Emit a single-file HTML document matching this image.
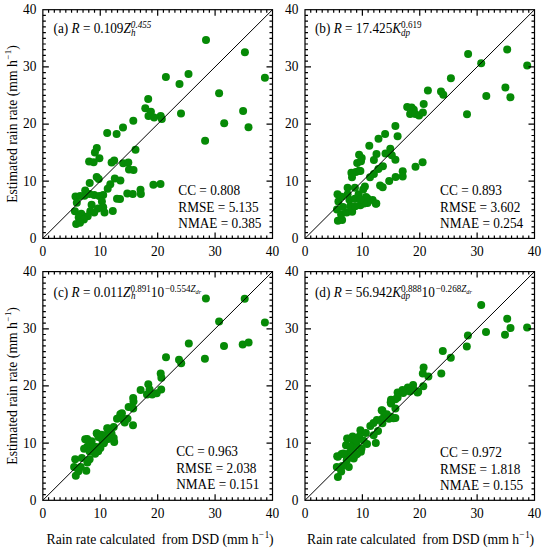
<!DOCTYPE html>
<html><head><meta charset="utf-8"><style>
html,body{margin:0;padding:0;background:#fff;}
body{width:544px;height:550px;overflow:hidden;}
svg{display:block;}
text{font-family:"Liberation Serif",serif;fill:#000;}
.t{font-size:13.4px;}
.s{font-size:13.3px;}
.L{font-size:13.66px;}
.ti{font-size:13.25px;}
circle{fill:#068a06;}
</style></head><body>
<svg width="544" height="550" viewBox="0 0 544 550">
<circle cx="206.0" cy="40.0" r="4.0"/>
<circle cx="244.9" cy="52.2" r="4.0"/>
<circle cx="264.9" cy="77.8" r="4.0"/>
<circle cx="188.5" cy="74.1" r="4.0"/>
<circle cx="179.5" cy="84.0" r="4.0"/>
<circle cx="219.1" cy="93.3" r="4.0"/>
<circle cx="181" cy="113.6" r="4.0"/>
<circle cx="243.1" cy="110.9" r="4.0"/>
<circle cx="224.2" cy="123.3" r="4.0"/>
<circle cx="248.5" cy="127.3" r="4.0"/>
<circle cx="165.9" cy="76.9" r="4.0"/>
<circle cx="148.2" cy="99.0" r="4.0"/>
<circle cx="145.3" cy="108.2" r="4.0"/>
<circle cx="150.9" cy="111.8" r="4.0"/>
<circle cx="148.5" cy="115.9" r="4.0"/>
<circle cx="154.1" cy="117.4" r="4.0"/>
<circle cx="160.7" cy="115.9" r="4.0"/>
<circle cx="161.8" cy="119.1" r="4.0"/>
<circle cx="133.3" cy="120.8" r="4.0"/>
<circle cx="123.0" cy="127.6" r="4.0"/>
<circle cx="116.6" cy="134.0" r="4.0"/>
<circle cx="205.1" cy="140.7" r="4.0"/>
<circle cx="107.2" cy="133.0" r="4.0"/>
<circle cx="135.5" cy="149.8" r="4.0"/>
<circle cx="96.8" cy="148.0" r="4.0"/>
<circle cx="94.9" cy="152.5" r="4.0"/>
<circle cx="99.4" cy="158.3" r="4.0"/>
<circle cx="89.1" cy="161.5" r="4.0"/>
<circle cx="93.6" cy="162.2" r="4.0"/>
<circle cx="111.6" cy="162.5" r="4.0"/>
<circle cx="114.2" cy="160.6" r="4.0"/>
<circle cx="123.2" cy="163.2" r="4.0"/>
<circle cx="128.3" cy="162.5" r="4.0"/>
<circle cx="129.0" cy="169.4" r="4.0"/>
<circle cx="133.5" cy="169.9" r="4.0"/>
<circle cx="114.8" cy="178.4" r="4.0"/>
<circle cx="120.4" cy="180.4" r="4.0"/>
<circle cx="110.3" cy="184.3" r="4.0"/>
<circle cx="107.7" cy="188.8" r="4.0"/>
<circle cx="153.4" cy="184.8" r="4.0"/>
<circle cx="160.5" cy="184.1" r="4.0"/>
<circle cx="127.3" cy="193.6" r="4.0"/>
<circle cx="132.8" cy="194.1" r="4.0"/>
<circle cx="140.5" cy="189.8" r="4.0"/>
<circle cx="140.9" cy="194.1" r="4.0"/>
<circle cx="117.0" cy="198.7" r="4.0"/>
<circle cx="120.0" cy="199.0" r="4.0"/>
<circle cx="96.7" cy="177.1" r="4.0"/>
<circle cx="98.7" cy="179.0" r="4.0"/>
<circle cx="89.7" cy="182.9" r="4.0"/>
<circle cx="85.2" cy="190.6" r="4.0"/>
<circle cx="75.5" cy="196.4" r="4.0"/>
<circle cx="84.5" cy="195.7" r="4.0"/>
<circle cx="94.2" cy="195.0" r="4.0"/>
<circle cx="103.2" cy="195.1" r="4.0"/>
<circle cx="99.3" cy="196.0" r="4.0"/>
<circle cx="89.5" cy="194.0" r="4.0"/>
<circle cx="80.2" cy="196.0" r="4.0"/>
<circle cx="76.8" cy="202.8" r="4.0"/>
<circle cx="91.6" cy="204.7" r="4.0"/>
<circle cx="101.9" cy="201.5" r="4.0"/>
<circle cx="103.2" cy="207.3" r="4.0"/>
<circle cx="98.0" cy="208.6" r="4.0"/>
<circle cx="74.9" cy="211.2" r="4.0"/>
<circle cx="112.8" cy="211.0" r="4.0"/>
<circle cx="81.3" cy="213.8" r="4.0"/>
<circle cx="90.3" cy="211.2" r="4.0"/>
<circle cx="94.2" cy="212.5" r="4.0"/>
<circle cx="104.5" cy="212.5" r="4.0"/>
<circle cx="87.7" cy="216.3" r="4.0"/>
<circle cx="78.7" cy="217.6" r="4.0"/>
<circle cx="83.9" cy="219.5" r="4.0"/>
<circle cx="76.2" cy="224.1" r="4.0"/>
<circle cx="80.0" cy="222.8" r="4.0"/>
<path d="M48.59 238.4v-3M48.59 9.7v3M42.85 232.68h3M272.5 232.68h-3M54.33 238.4v-3M54.33 9.7v3M42.85 226.97h3M272.5 226.97h-3M60.07 238.4v-3M60.07 9.7v3M42.85 221.25h3M272.5 221.25h-3M65.81 238.4v-3M65.81 9.7v3M42.85 215.53h3M272.5 215.53h-3M71.56 238.4v-3M71.56 9.7v3M42.85 209.81h3M272.5 209.81h-3M77.30 238.4v-3M77.30 9.7v3M42.85 204.09h3M272.5 204.09h-3M83.04 238.4v-3M83.04 9.7v3M42.85 198.38h3M272.5 198.38h-3M88.78 238.4v-3M88.78 9.7v3M42.85 192.66h3M272.5 192.66h-3M94.52 238.4v-3M94.52 9.7v3M42.85 186.94h3M272.5 186.94h-3M100.26 238.4v-6M100.26 9.7v6M42.85 181.22h6M272.5 181.22h-6M106.00 238.4v-3M106.00 9.7v3M42.85 175.51h3M272.5 175.51h-3M111.75 238.4v-3M111.75 9.7v3M42.85 169.79h3M272.5 169.79h-3M117.49 238.4v-3M117.49 9.7v3M42.85 164.07h3M272.5 164.07h-3M123.23 238.4v-3M123.23 9.7v3M42.85 158.36h3M272.5 158.36h-3M128.97 238.4v-3M128.97 9.7v3M42.85 152.64h3M272.5 152.64h-3M134.71 238.4v-3M134.71 9.7v3M42.85 146.92h3M272.5 146.92h-3M140.45 238.4v-3M140.45 9.7v3M42.85 141.20h3M272.5 141.20h-3M146.19 238.4v-3M146.19 9.7v3M42.85 135.49h3M272.5 135.49h-3M151.93 238.4v-3M151.93 9.7v3M42.85 129.77h3M272.5 129.77h-3M157.68 238.4v-6M157.68 9.7v6M42.85 124.05h6M272.5 124.05h-6M163.42 238.4v-3M163.42 9.7v3M42.85 118.33h3M272.5 118.33h-3M169.16 238.4v-3M169.16 9.7v3M42.85 112.61h3M272.5 112.61h-3M174.90 238.4v-3M174.90 9.7v3M42.85 106.90h3M272.5 106.90h-3M180.64 238.4v-3M180.64 9.7v3M42.85 101.18h3M272.5 101.18h-3M186.38 238.4v-3M186.38 9.7v3M42.85 95.46h3M272.5 95.46h-3M192.12 238.4v-3M192.12 9.7v3M42.85 89.75h3M272.5 89.75h-3M197.86 238.4v-3M197.86 9.7v3M42.85 84.03h3M272.5 84.03h-3M203.60 238.4v-3M203.60 9.7v3M42.85 78.31h3M272.5 78.31h-3M209.35 238.4v-3M209.35 9.7v3M42.85 72.59h3M272.5 72.59h-3M215.09 238.4v-6M215.09 9.7v6M42.85 66.88h6M272.5 66.88h-6M220.83 238.4v-3M220.83 9.7v3M42.85 61.16h3M272.5 61.16h-3M226.57 238.4v-3M226.57 9.7v3M42.85 55.44h3M272.5 55.44h-3M232.31 238.4v-3M232.31 9.7v3M42.85 49.72h3M272.5 49.72h-3M238.05 238.4v-3M238.05 9.7v3M42.85 44.00h3M272.5 44.00h-3M243.79 238.4v-3M243.79 9.7v3M42.85 38.29h3M272.5 38.29h-3M249.53 238.4v-3M249.53 9.7v3M42.85 32.57h3M272.5 32.57h-3M255.28 238.4v-3M255.28 9.7v3M42.85 26.85h3M272.5 26.85h-3M261.02 238.4v-3M261.02 9.7v3M42.85 21.13h3M272.5 21.13h-3M266.76 238.4v-3M266.76 9.7v3M42.85 15.42h3M272.5 15.42h-3" stroke="#000" stroke-width="1.2" fill="none"/>
<rect x="42.85" y="9.7" width="229.65" height="228.70" stroke="#000" stroke-width="1.2" fill="none"/>
<line x1="42.85" y1="238.4" x2="272.5" y2="9.7" stroke="#000" stroke-width="1"/>
<text class="t" transform="translate(42.85,255.90) scale(1,1.05)" text-anchor="middle">0</text>
<text class="t" transform="translate(36.35,242.80) scale(1,1.05)" text-anchor="end">0</text>
<text class="t" transform="translate(100.26,255.90) scale(1,1.05)" text-anchor="middle">10</text>
<text class="t" transform="translate(36.35,185.62) scale(1,1.05)" text-anchor="end">10</text>
<text class="t" transform="translate(157.68,255.90) scale(1,1.05)" text-anchor="middle">20</text>
<text class="t" transform="translate(36.35,128.45) scale(1,1.05)" text-anchor="end">20</text>
<text class="t" transform="translate(215.09,255.90) scale(1,1.05)" text-anchor="middle">30</text>
<text class="t" transform="translate(36.35,71.28) scale(1,1.05)" text-anchor="end">30</text>
<text class="t" transform="translate(272.50,255.90) scale(1,1.05)" text-anchor="middle">40</text>
<text class="t" transform="translate(36.35,14.10) scale(1,1.05)" text-anchor="end">40</text>
<circle cx="468.1" cy="54.1" r="4.0"/>
<circle cx="507.2" cy="49.5" r="4.0"/>
<circle cx="481.2" cy="63.3" r="4.0"/>
<circle cx="527.2" cy="65.6" r="4.0"/>
<circle cx="450.9" cy="78.3" r="4.0"/>
<circle cx="427.9" cy="90.4" r="4.0"/>
<circle cx="441.0" cy="91.6" r="4.0"/>
<circle cx="443.3" cy="94.8" r="4.0"/>
<circle cx="505.4" cy="87.4" r="4.0"/>
<circle cx="486.3" cy="95.9" r="4.0"/>
<circle cx="510.4" cy="97.3" r="4.0"/>
<circle cx="467.0" cy="114.3" r="4.0"/>
<circle cx="423.7" cy="104.1" r="4.0"/>
<circle cx="407.2" cy="107.1" r="4.0"/>
<circle cx="411.6" cy="107.5" r="4.0"/>
<circle cx="413.8" cy="109.7" r="4.0"/>
<circle cx="410.1" cy="114.1" r="4.0"/>
<circle cx="415.3" cy="114.1" r="4.0"/>
<circle cx="419.0" cy="115.6" r="4.0"/>
<circle cx="422.9" cy="112.4" r="4.0"/>
<circle cx="395.4" cy="125.9" r="4.0"/>
<circle cx="385.1" cy="134.0" r="4.0"/>
<circle cx="397.6" cy="136.2" r="4.0"/>
<circle cx="378.5" cy="138.7" r="4.0"/>
<circle cx="369.3" cy="145.7" r="4.0"/>
<circle cx="390.3" cy="148.7" r="4.0"/>
<circle cx="385.5" cy="153.5" r="4.0"/>
<circle cx="391.8" cy="155.3" r="4.0"/>
<circle cx="395.4" cy="159.7" r="4.0"/>
<circle cx="376.5" cy="154.1" r="4.0"/>
<circle cx="373.9" cy="159.9" r="4.0"/>
<circle cx="359.1" cy="154.7" r="4.0"/>
<circle cx="361.7" cy="158.0" r="4.0"/>
<circle cx="357.2" cy="163.1" r="4.0"/>
<circle cx="422.6" cy="162.2" r="4.0"/>
<circle cx="415.5" cy="166.7" r="4.0"/>
<circle cx="402.7" cy="171.2" r="4.0"/>
<circle cx="402.7" cy="176.4" r="4.0"/>
<circle cx="395.6" cy="177.0" r="4.0"/>
<circle cx="389.2" cy="180.9" r="4.0"/>
<circle cx="380.1" cy="185.4" r="4.0"/>
<circle cx="382.7" cy="187.3" r="4.0"/>
<circle cx="376.3" cy="203.4" r="4.0"/>
<circle cx="382.9" cy="166.3" r="4.0"/>
<circle cx="378.4" cy="168.9" r="4.0"/>
<circle cx="373.9" cy="174.1" r="4.0"/>
<circle cx="370.0" cy="177.3" r="4.0"/>
<circle cx="359.1" cy="170.8" r="4.0"/>
<circle cx="355.9" cy="172.1" r="4.0"/>
<circle cx="351.4" cy="172.8" r="4.0"/>
<circle cx="352.0" cy="177.3" r="4.0"/>
<circle cx="360.4" cy="170.9" r="4.0"/>
<circle cx="361.0" cy="161.3" r="4.0"/>
<circle cx="367.5" cy="198.6" r="4.0"/>
<circle cx="372.6" cy="199.9" r="4.0"/>
<circle cx="375.8" cy="203.8" r="4.0"/>
<circle cx="367.5" cy="203.1" r="4.0"/>
<circle cx="364.9" cy="186.4" r="4.0"/>
<circle cx="337.5" cy="194.2" r="4.0"/>
<circle cx="338.4" cy="201.5" r="4.0"/>
<circle cx="337.0" cy="209.4" r="4.0"/>
<circle cx="337.9" cy="220.8" r="4.0"/>
<circle cx="342.1" cy="219.9" r="4.0"/>
<circle cx="341.1" cy="214.4" r="4.0"/>
<circle cx="346.7" cy="212.6" r="4.0"/>
<circle cx="352.2" cy="211.7" r="4.0"/>
<circle cx="350.3" cy="206.1" r="4.0"/>
<circle cx="343.0" cy="207.1" r="4.0"/>
<circle cx="347.6" cy="194.2" r="4.0"/>
<circle cx="349.4" cy="199.7" r="4.0"/>
<circle cx="354.9" cy="198.8" r="4.0"/>
<circle cx="360.4" cy="205.2" r="4.0"/>
<circle cx="364.1" cy="203.4" r="4.0"/>
<circle cx="366.0" cy="197.0" r="4.0"/>
<circle cx="358.6" cy="194.2" r="4.0"/>
<circle cx="347.6" cy="187.8" r="4.0"/>
<circle cx="354.9" cy="187.8" r="4.0"/>
<circle cx="363.2" cy="189.6" r="4.0"/>
<circle cx="360.2" cy="199.4" r="4.0"/>
<circle cx="355.2" cy="206.3" r="4.0"/>
<circle cx="341.5" cy="196.8" r="4.0"/>
<path d="M310.74 238.4v-3M310.74 9.7v3M305.0 232.68h3M534.5 232.68h-3M316.48 238.4v-3M316.48 9.7v3M305.0 226.97h3M534.5 226.97h-3M322.21 238.4v-3M322.21 9.7v3M305.0 221.25h3M534.5 221.25h-3M327.95 238.4v-3M327.95 9.7v3M305.0 215.53h3M534.5 215.53h-3M333.69 238.4v-3M333.69 9.7v3M305.0 209.81h3M534.5 209.81h-3M339.43 238.4v-3M339.43 9.7v3M305.0 204.09h3M534.5 204.09h-3M345.16 238.4v-3M345.16 9.7v3M305.0 198.38h3M534.5 198.38h-3M350.90 238.4v-3M350.90 9.7v3M305.0 192.66h3M534.5 192.66h-3M356.64 238.4v-3M356.64 9.7v3M305.0 186.94h3M534.5 186.94h-3M362.38 238.4v-6M362.38 9.7v6M305.0 181.22h6M534.5 181.22h-6M368.11 238.4v-3M368.11 9.7v3M305.0 175.51h3M534.5 175.51h-3M373.85 238.4v-3M373.85 9.7v3M305.0 169.79h3M534.5 169.79h-3M379.59 238.4v-3M379.59 9.7v3M305.0 164.07h3M534.5 164.07h-3M385.32 238.4v-3M385.32 9.7v3M305.0 158.36h3M534.5 158.36h-3M391.06 238.4v-3M391.06 9.7v3M305.0 152.64h3M534.5 152.64h-3M396.80 238.4v-3M396.80 9.7v3M305.0 146.92h3M534.5 146.92h-3M402.54 238.4v-3M402.54 9.7v3M305.0 141.20h3M534.5 141.20h-3M408.27 238.4v-3M408.27 9.7v3M305.0 135.49h3M534.5 135.49h-3M414.01 238.4v-3M414.01 9.7v3M305.0 129.77h3M534.5 129.77h-3M419.75 238.4v-6M419.75 9.7v6M305.0 124.05h6M534.5 124.05h-6M425.49 238.4v-3M425.49 9.7v3M305.0 118.33h3M534.5 118.33h-3M431.23 238.4v-3M431.23 9.7v3M305.0 112.61h3M534.5 112.61h-3M436.96 238.4v-3M436.96 9.7v3M305.0 106.90h3M534.5 106.90h-3M442.70 238.4v-3M442.70 9.7v3M305.0 101.18h3M534.5 101.18h-3M448.44 238.4v-3M448.44 9.7v3M305.0 95.46h3M534.5 95.46h-3M454.17 238.4v-3M454.17 9.7v3M305.0 89.75h3M534.5 89.75h-3M459.91 238.4v-3M459.91 9.7v3M305.0 84.03h3M534.5 84.03h-3M465.65 238.4v-3M465.65 9.7v3M305.0 78.31h3M534.5 78.31h-3M471.39 238.4v-3M471.39 9.7v3M305.0 72.59h3M534.5 72.59h-3M477.12 238.4v-6M477.12 9.7v6M305.0 66.88h6M534.5 66.88h-6M482.86 238.4v-3M482.86 9.7v3M305.0 61.16h3M534.5 61.16h-3M488.60 238.4v-3M488.60 9.7v3M305.0 55.44h3M534.5 55.44h-3M494.34 238.4v-3M494.34 9.7v3M305.0 49.72h3M534.5 49.72h-3M500.07 238.4v-3M500.07 9.7v3M305.0 44.00h3M534.5 44.00h-3M505.81 238.4v-3M505.81 9.7v3M305.0 38.29h3M534.5 38.29h-3M511.55 238.4v-3M511.55 9.7v3M305.0 32.57h3M534.5 32.57h-3M517.29 238.4v-3M517.29 9.7v3M305.0 26.85h3M534.5 26.85h-3M523.02 238.4v-3M523.02 9.7v3M305.0 21.13h3M534.5 21.13h-3M528.76 238.4v-3M528.76 9.7v3M305.0 15.42h3M534.5 15.42h-3" stroke="#000" stroke-width="1.2" fill="none"/>
<rect x="305.0" y="9.7" width="229.50" height="228.70" stroke="#000" stroke-width="1.2" fill="none"/>
<line x1="305.0" y1="238.4" x2="534.5" y2="9.7" stroke="#000" stroke-width="1"/>
<text class="t" transform="translate(305.00,255.90) scale(1,1.05)" text-anchor="middle">0</text>
<text class="t" transform="translate(298.50,242.80) scale(1,1.05)" text-anchor="end">0</text>
<text class="t" transform="translate(362.38,255.90) scale(1,1.05)" text-anchor="middle">10</text>
<text class="t" transform="translate(298.50,185.62) scale(1,1.05)" text-anchor="end">10</text>
<text class="t" transform="translate(419.75,255.90) scale(1,1.05)" text-anchor="middle">20</text>
<text class="t" transform="translate(298.50,128.45) scale(1,1.05)" text-anchor="end">20</text>
<text class="t" transform="translate(477.12,255.90) scale(1,1.05)" text-anchor="middle">30</text>
<text class="t" transform="translate(298.50,71.28) scale(1,1.05)" text-anchor="end">30</text>
<text class="t" transform="translate(534.50,255.90) scale(1,1.05)" text-anchor="middle">40</text>
<text class="t" transform="translate(298.50,14.10) scale(1,1.05)" text-anchor="end">40</text>
<circle cx="205.9" cy="298.4" r="4.0"/>
<circle cx="244.7" cy="298.8" r="4.0"/>
<circle cx="219.1" cy="321.4" r="4.0"/>
<circle cx="264.9" cy="322.4" r="4.0"/>
<circle cx="188.8" cy="343.6" r="4.0"/>
<circle cx="224.0" cy="346.0" r="4.0"/>
<circle cx="242.7" cy="344.4" r="4.0"/>
<circle cx="248.6" cy="342.4" r="4.0"/>
<circle cx="166.0" cy="357.3" r="4.0"/>
<circle cx="179.0" cy="359.7" r="4.0"/>
<circle cx="181.2" cy="363.2" r="4.0"/>
<circle cx="204.9" cy="358.8" r="4.0"/>
<circle cx="160.7" cy="373.4" r="4.0"/>
<circle cx="161.4" cy="377.8" r="4.0"/>
<circle cx="148.3" cy="384.3" r="4.0"/>
<circle cx="140.6" cy="390.0" r="4.0"/>
<circle cx="149.6" cy="389.4" r="4.0"/>
<circle cx="161.2" cy="389.4" r="4.0"/>
<circle cx="147.0" cy="394.5" r="4.0"/>
<circle cx="152.2" cy="394.5" r="4.0"/>
<circle cx="156.7" cy="393.3" r="4.0"/>
<circle cx="133.2" cy="398.0" r="4.0"/>
<circle cx="133.5" cy="401.6" r="4.0"/>
<circle cx="128.6" cy="407.1" r="4.0"/>
<circle cx="133.2" cy="408.5" r="4.0"/>
<circle cx="121.9" cy="413.2" r="4.0"/>
<circle cx="120.3" cy="414.3" r="4.0"/>
<circle cx="117.0" cy="418.7" r="4.0"/>
<circle cx="123.0" cy="419.3" r="4.0"/>
<circle cx="127.5" cy="418.7" r="4.0"/>
<circle cx="124.7" cy="422.6" r="4.0"/>
<circle cx="133.0" cy="425.3" r="4.0"/>
<circle cx="108.2" cy="428.6" r="4.0"/>
<circle cx="113.7" cy="427.0" r="4.0"/>
<circle cx="97.1" cy="433.6" r="4.0"/>
<circle cx="101.5" cy="434.7" r="4.0"/>
<circle cx="111.5" cy="433.6" r="4.0"/>
<circle cx="113.7" cy="438.0" r="4.0"/>
<circle cx="114.2" cy="441.9" r="4.0"/>
<circle cx="108.2" cy="439.1" r="4.0"/>
<circle cx="87.2" cy="439.1" r="4.0"/>
<circle cx="91.6" cy="441.3" r="4.0"/>
<circle cx="102.6" cy="441.3" r="4.0"/>
<circle cx="87.2" cy="446.8" r="4.0"/>
<circle cx="94.9" cy="446.8" r="4.0"/>
<circle cx="100.4" cy="447.9" r="4.0"/>
<circle cx="91.6" cy="451.2" r="4.0"/>
<circle cx="98.2" cy="451.2" r="4.0"/>
<circle cx="107.2" cy="428.3" r="4.0"/>
<circle cx="96.7" cy="433.3" r="4.0"/>
<circle cx="85.2" cy="439.3" r="4.0"/>
<circle cx="98.4" cy="437.1" r="4.0"/>
<circle cx="106.1" cy="434.9" r="4.0"/>
<circle cx="103.9" cy="443.2" r="4.0"/>
<circle cx="84.1" cy="448.7" r="4.0"/>
<circle cx="92.9" cy="447.1" r="4.0"/>
<circle cx="99.5" cy="447.1" r="4.0"/>
<circle cx="95.1" cy="453.7" r="4.0"/>
<circle cx="89.6" cy="451.5" r="4.0"/>
<circle cx="75.2" cy="459.2" r="4.0"/>
<circle cx="81.9" cy="458.1" r="4.0"/>
<circle cx="89.6" cy="459.2" r="4.0"/>
<circle cx="87.4" cy="462.5" r="4.0"/>
<circle cx="74.1" cy="466.9" r="4.0"/>
<circle cx="80.7" cy="466.9" r="4.0"/>
<circle cx="86.3" cy="470.8" r="4.0"/>
<circle cx="75.8" cy="475.7" r="4.0"/>
<circle cx="78.5" cy="471.3" r="4.0"/>
<path d="M48.59 500.3v-3M48.59 271.6v3M42.85 494.58h3M272.5 494.58h-3M54.33 500.3v-3M54.33 271.6v3M42.85 488.87h3M272.5 488.87h-3M60.07 500.3v-3M60.07 271.6v3M42.85 483.15h3M272.5 483.15h-3M65.81 500.3v-3M65.81 271.6v3M42.85 477.43h3M272.5 477.43h-3M71.56 500.3v-3M71.56 271.6v3M42.85 471.71h3M272.5 471.71h-3M77.30 500.3v-3M77.30 271.6v3M42.85 466.00h3M272.5 466.00h-3M83.04 500.3v-3M83.04 271.6v3M42.85 460.28h3M272.5 460.28h-3M88.78 500.3v-3M88.78 271.6v3M42.85 454.56h3M272.5 454.56h-3M94.52 500.3v-3M94.52 271.6v3M42.85 448.84h3M272.5 448.84h-3M100.26 500.3v-6M100.26 271.6v6M42.85 443.12h6M272.5 443.12h-6M106.00 500.3v-3M106.00 271.6v3M42.85 437.41h3M272.5 437.41h-3M111.75 500.3v-3M111.75 271.6v3M42.85 431.69h3M272.5 431.69h-3M117.49 500.3v-3M117.49 271.6v3M42.85 425.97h3M272.5 425.97h-3M123.23 500.3v-3M123.23 271.6v3M42.85 420.25h3M272.5 420.25h-3M128.97 500.3v-3M128.97 271.6v3M42.85 414.54h3M272.5 414.54h-3M134.71 500.3v-3M134.71 271.6v3M42.85 408.82h3M272.5 408.82h-3M140.45 500.3v-3M140.45 271.6v3M42.85 403.10h3M272.5 403.10h-3M146.19 500.3v-3M146.19 271.6v3M42.85 397.38h3M272.5 397.38h-3M151.93 500.3v-3M151.93 271.6v3M42.85 391.67h3M272.5 391.67h-3M157.68 500.3v-6M157.68 271.6v6M42.85 385.95h6M272.5 385.95h-6M163.42 500.3v-3M163.42 271.6v3M42.85 380.23h3M272.5 380.23h-3M169.16 500.3v-3M169.16 271.6v3M42.85 374.52h3M272.5 374.52h-3M174.90 500.3v-3M174.90 271.6v3M42.85 368.80h3M272.5 368.80h-3M180.64 500.3v-3M180.64 271.6v3M42.85 363.08h3M272.5 363.08h-3M186.38 500.3v-3M186.38 271.6v3M42.85 357.36h3M272.5 357.36h-3M192.12 500.3v-3M192.12 271.6v3M42.85 351.65h3M272.5 351.65h-3M197.86 500.3v-3M197.86 271.6v3M42.85 345.93h3M272.5 345.93h-3M203.60 500.3v-3M203.60 271.6v3M42.85 340.21h3M272.5 340.21h-3M209.35 500.3v-3M209.35 271.6v3M42.85 334.49h3M272.5 334.49h-3M215.09 500.3v-6M215.09 271.6v6M42.85 328.78h6M272.5 328.78h-6M220.83 500.3v-3M220.83 271.6v3M42.85 323.06h3M272.5 323.06h-3M226.57 500.3v-3M226.57 271.6v3M42.85 317.34h3M272.5 317.34h-3M232.31 500.3v-3M232.31 271.6v3M42.85 311.62h3M272.5 311.62h-3M238.05 500.3v-3M238.05 271.6v3M42.85 305.91h3M272.5 305.91h-3M243.79 500.3v-3M243.79 271.6v3M42.85 300.19h3M272.5 300.19h-3M249.53 500.3v-3M249.53 271.6v3M42.85 294.47h3M272.5 294.47h-3M255.28 500.3v-3M255.28 271.6v3M42.85 288.75h3M272.5 288.75h-3M261.02 500.3v-3M261.02 271.6v3M42.85 283.04h3M272.5 283.04h-3M266.76 500.3v-3M266.76 271.6v3M42.85 277.32h3M272.5 277.32h-3" stroke="#000" stroke-width="1.2" fill="none"/>
<rect x="42.85" y="271.6" width="229.65" height="228.70" stroke="#000" stroke-width="1.2" fill="none"/>
<line x1="42.85" y1="500.3" x2="272.5" y2="271.6" stroke="#000" stroke-width="1"/>
<text class="t" transform="translate(42.85,517.80) scale(1,1.05)" text-anchor="middle">0</text>
<text class="t" transform="translate(36.35,504.70) scale(1,1.05)" text-anchor="end">0</text>
<text class="t" transform="translate(100.26,517.80) scale(1,1.05)" text-anchor="middle">10</text>
<text class="t" transform="translate(36.35,447.52) scale(1,1.05)" text-anchor="end">10</text>
<text class="t" transform="translate(157.68,517.80) scale(1,1.05)" text-anchor="middle">20</text>
<text class="t" transform="translate(36.35,390.35) scale(1,1.05)" text-anchor="end">20</text>
<text class="t" transform="translate(215.09,517.80) scale(1,1.05)" text-anchor="middle">30</text>
<text class="t" transform="translate(36.35,333.18) scale(1,1.05)" text-anchor="end">30</text>
<text class="t" transform="translate(272.50,517.80) scale(1,1.05)" text-anchor="middle">40</text>
<text class="t" transform="translate(36.35,276.00) scale(1,1.05)" text-anchor="end">40</text>
<circle cx="481.2" cy="304.9" r="4.0"/>
<circle cx="507.2" cy="318.8" r="4.0"/>
<circle cx="510.5" cy="328.1" r="4.0"/>
<circle cx="527.1" cy="327.6" r="4.0"/>
<circle cx="505.0" cy="334.7" r="4.0"/>
<circle cx="486.0" cy="332.1" r="4.0"/>
<circle cx="467.9" cy="335.4" r="4.0"/>
<circle cx="466.8" cy="346.4" r="4.0"/>
<circle cx="442.8" cy="351.0" r="4.0"/>
<circle cx="450.8" cy="357.8" r="4.0"/>
<circle cx="423.6" cy="367.5" r="4.0"/>
<circle cx="422.8" cy="373.4" r="4.0"/>
<circle cx="428.4" cy="376.6" r="4.0"/>
<circle cx="441.3" cy="373.4" r="4.0"/>
<circle cx="423.3" cy="386.3" r="4.0"/>
<circle cx="413.1" cy="384.9" r="4.0"/>
<circle cx="407.8" cy="387.5" r="4.0"/>
<circle cx="402.5" cy="390.0" r="4.0"/>
<circle cx="397.6" cy="392.5" r="4.0"/>
<circle cx="403.2" cy="393.1" r="4.0"/>
<circle cx="409.8" cy="391.5" r="4.0"/>
<circle cx="417.5" cy="392.6" r="4.0"/>
<circle cx="418.2" cy="391.8" r="4.0"/>
<circle cx="397.6" cy="397.5" r="4.0"/>
<circle cx="391.0" cy="399.7" r="4.0"/>
<circle cx="395.4" cy="399.2" r="4.0"/>
<circle cx="391.0" cy="403.6" r="4.0"/>
<circle cx="395.4" cy="408.6" r="4.0"/>
<circle cx="381.7" cy="410.2" r="4.0"/>
<circle cx="384.4" cy="414.6" r="4.0"/>
<circle cx="391.0" cy="416.8" r="4.0"/>
<circle cx="395.4" cy="417.9" r="4.0"/>
<circle cx="382.2" cy="419.0" r="4.0"/>
<circle cx="390.7" cy="402.2" r="4.0"/>
<circle cx="382.4" cy="410.5" r="4.0"/>
<circle cx="386.8" cy="414.3" r="4.0"/>
<circle cx="393.5" cy="418.2" r="4.0"/>
<circle cx="389.0" cy="418.7" r="4.0"/>
<circle cx="376.9" cy="419.9" r="4.0"/>
<circle cx="382.4" cy="423.2" r="4.0"/>
<circle cx="370.3" cy="425.9" r="4.0"/>
<circle cx="378.0" cy="430.9" r="4.0"/>
<circle cx="360.4" cy="430.3" r="4.0"/>
<circle cx="365.9" cy="433.1" r="4.0"/>
<circle cx="373.6" cy="435.3" r="4.0"/>
<circle cx="375.8" cy="443.0" r="4.0"/>
<circle cx="347.1" cy="438.6" r="4.0"/>
<circle cx="352.6" cy="436.4" r="4.0"/>
<circle cx="359.3" cy="436.4" r="4.0"/>
<circle cx="346.0" cy="445.2" r="4.0"/>
<circle cx="353.7" cy="443.0" r="4.0"/>
<circle cx="363.7" cy="440.8" r="4.0"/>
<circle cx="367.0" cy="444.1" r="4.0"/>
<circle cx="361.5" cy="448.5" r="4.0"/>
<circle cx="353.7" cy="449.6" r="4.0"/>
<circle cx="341.6" cy="454.0" r="4.0"/>
<circle cx="337.2" cy="456.2" r="4.0"/>
<circle cx="349.3" cy="452.9" r="4.0"/>
<circle cx="357.1" cy="454.0" r="4.0"/>
<circle cx="353.7" cy="458.5" r="4.0"/>
<circle cx="347.1" cy="458.5" r="4.0"/>
<circle cx="347.8" cy="438.7" r="4.0"/>
<circle cx="356.5" cy="445.3" r="4.0"/>
<circle cx="360.9" cy="451.8" r="4.0"/>
<circle cx="343.4" cy="453.5" r="4.0"/>
<circle cx="337.9" cy="456.7" r="4.0"/>
<circle cx="351.0" cy="457.3" r="4.0"/>
<circle cx="346.7" cy="460.6" r="4.0"/>
<circle cx="336.8" cy="467.1" r="4.0"/>
<circle cx="348.8" cy="467.1" r="4.0"/>
<circle cx="342.3" cy="466.0" r="4.0"/>
<circle cx="341.2" cy="471.5" r="4.0"/>
<circle cx="337.9" cy="476.9" r="4.0"/>
<circle cx="355.4" cy="455.1" r="4.0"/>
<circle cx="373.5" cy="423.0" r="4.0"/>
<circle cx="414.0" cy="390.0" r="4.0"/>
<circle cx="356.5" cy="440.5" r="4.0"/>
<circle cx="350.0" cy="446.5" r="4.0"/>
<path d="M310.74 500.3v-3M310.74 271.6v3M305.0 494.58h3M534.5 494.58h-3M316.48 500.3v-3M316.48 271.6v3M305.0 488.87h3M534.5 488.87h-3M322.21 500.3v-3M322.21 271.6v3M305.0 483.15h3M534.5 483.15h-3M327.95 500.3v-3M327.95 271.6v3M305.0 477.43h3M534.5 477.43h-3M333.69 500.3v-3M333.69 271.6v3M305.0 471.71h3M534.5 471.71h-3M339.43 500.3v-3M339.43 271.6v3M305.0 466.00h3M534.5 466.00h-3M345.16 500.3v-3M345.16 271.6v3M305.0 460.28h3M534.5 460.28h-3M350.90 500.3v-3M350.90 271.6v3M305.0 454.56h3M534.5 454.56h-3M356.64 500.3v-3M356.64 271.6v3M305.0 448.84h3M534.5 448.84h-3M362.38 500.3v-6M362.38 271.6v6M305.0 443.12h6M534.5 443.12h-6M368.11 500.3v-3M368.11 271.6v3M305.0 437.41h3M534.5 437.41h-3M373.85 500.3v-3M373.85 271.6v3M305.0 431.69h3M534.5 431.69h-3M379.59 500.3v-3M379.59 271.6v3M305.0 425.97h3M534.5 425.97h-3M385.32 500.3v-3M385.32 271.6v3M305.0 420.25h3M534.5 420.25h-3M391.06 500.3v-3M391.06 271.6v3M305.0 414.54h3M534.5 414.54h-3M396.80 500.3v-3M396.80 271.6v3M305.0 408.82h3M534.5 408.82h-3M402.54 500.3v-3M402.54 271.6v3M305.0 403.10h3M534.5 403.10h-3M408.27 500.3v-3M408.27 271.6v3M305.0 397.38h3M534.5 397.38h-3M414.01 500.3v-3M414.01 271.6v3M305.0 391.67h3M534.5 391.67h-3M419.75 500.3v-6M419.75 271.6v6M305.0 385.95h6M534.5 385.95h-6M425.49 500.3v-3M425.49 271.6v3M305.0 380.23h3M534.5 380.23h-3M431.23 500.3v-3M431.23 271.6v3M305.0 374.52h3M534.5 374.52h-3M436.96 500.3v-3M436.96 271.6v3M305.0 368.80h3M534.5 368.80h-3M442.70 500.3v-3M442.70 271.6v3M305.0 363.08h3M534.5 363.08h-3M448.44 500.3v-3M448.44 271.6v3M305.0 357.36h3M534.5 357.36h-3M454.17 500.3v-3M454.17 271.6v3M305.0 351.65h3M534.5 351.65h-3M459.91 500.3v-3M459.91 271.6v3M305.0 345.93h3M534.5 345.93h-3M465.65 500.3v-3M465.65 271.6v3M305.0 340.21h3M534.5 340.21h-3M471.39 500.3v-3M471.39 271.6v3M305.0 334.49h3M534.5 334.49h-3M477.12 500.3v-6M477.12 271.6v6M305.0 328.78h6M534.5 328.78h-6M482.86 500.3v-3M482.86 271.6v3M305.0 323.06h3M534.5 323.06h-3M488.60 500.3v-3M488.60 271.6v3M305.0 317.34h3M534.5 317.34h-3M494.34 500.3v-3M494.34 271.6v3M305.0 311.62h3M534.5 311.62h-3M500.07 500.3v-3M500.07 271.6v3M305.0 305.91h3M534.5 305.91h-3M505.81 500.3v-3M505.81 271.6v3M305.0 300.19h3M534.5 300.19h-3M511.55 500.3v-3M511.55 271.6v3M305.0 294.47h3M534.5 294.47h-3M517.29 500.3v-3M517.29 271.6v3M305.0 288.75h3M534.5 288.75h-3M523.02 500.3v-3M523.02 271.6v3M305.0 283.04h3M534.5 283.04h-3M528.76 500.3v-3M528.76 271.6v3M305.0 277.32h3M534.5 277.32h-3" stroke="#000" stroke-width="1.2" fill="none"/>
<rect x="305.0" y="271.6" width="229.50" height="228.70" stroke="#000" stroke-width="1.2" fill="none"/>
<line x1="305.0" y1="500.3" x2="534.5" y2="271.6" stroke="#000" stroke-width="1"/>
<text class="t" transform="translate(305.00,517.80) scale(1,1.05)" text-anchor="middle">0</text>
<text class="t" transform="translate(298.50,504.70) scale(1,1.05)" text-anchor="end">0</text>
<text class="t" transform="translate(362.38,517.80) scale(1,1.05)" text-anchor="middle">10</text>
<text class="t" transform="translate(298.50,447.52) scale(1,1.05)" text-anchor="end">10</text>
<text class="t" transform="translate(419.75,517.80) scale(1,1.05)" text-anchor="middle">20</text>
<text class="t" transform="translate(298.50,390.35) scale(1,1.05)" text-anchor="end">20</text>
<text class="t" transform="translate(477.12,517.80) scale(1,1.05)" text-anchor="middle">30</text>
<text class="t" transform="translate(298.50,333.18) scale(1,1.05)" text-anchor="end">30</text>
<text class="t" transform="translate(534.50,517.80) scale(1,1.05)" text-anchor="middle">40</text>
<text class="t" transform="translate(298.50,276.00) scale(1,1.05)" text-anchor="end">40</text>
<g class="s">
<text class="ti" transform="translate(53.5,32.9) scale(1,1.05)">(a) <tspan font-style="italic">R</tspan> = 0.109<tspan font-style="italic">Z</tspan><tspan font-style="italic" font-size="9.1" dy="-4.6">0.455</tspan></text>
<text transform="translate(131,35.5) scale(1,1.05)" font-style="italic" font-size="9.1">h</text>
<text transform="translate(178.3,194.8) scale(1,1.05)">CC = 0.808</text>
<text transform="translate(178.3,211.7) scale(1,1.05)">RMSE = 5.135</text>
<text transform="translate(178.3,228.4) scale(1,1.05)">NMAE = 0.385</text>

<text class="ti" transform="translate(314.9,32.9) scale(1,1.05)">(b) <tspan font-style="italic">R</tspan> = 17.425<tspan font-style="italic">K</tspan><tspan font-size="9.1" dy="-4.6">0.619</tspan></text>
<text transform="translate(401,35.5) scale(1,1.05)" font-style="italic" font-size="9.1">dp</text>
<text transform="translate(440.1,194.8) scale(1,1.05)">CC = 0.893</text>
<text transform="translate(440.1,211.7) scale(1,1.05)">RMSE = 3.602</text>
<text transform="translate(440.1,228.4) scale(1,1.05)">NMAE = 0.254</text>

<text class="ti" transform="translate(53.5,296.6) scale(1,1.05)">(c) <tspan font-style="italic">R</tspan> = 0.011<tspan font-style="italic">Z</tspan><tspan font-size="9.1" dy="-4.6">0.891</tspan><tspan dy="4.6">10</tspan><tspan font-size="9.1" dy="-4.6" dx="0.8">−0.554</tspan><tspan font-size="9.1" font-style="italic">Z</tspan><tspan font-size="6.3" font-style="italic" dy="2">dr</tspan></text>
<text transform="translate(131,299.2) scale(1,1.05)" font-style="italic" font-size="9.1">h</text>
<text transform="translate(176.2,456) scale(1,1.05)">CC = 0.963</text>
<text transform="translate(176.2,472.5) scale(1,1.05)">RMSE = 2.038</text>
<text transform="translate(176.2,488.8) scale(1,1.05)">NMAE = 0.151</text>

<text class="ti" transform="translate(314.9,296.6) scale(1,1.05)">(d) <tspan font-style="italic">R</tspan> = 56.942<tspan font-style="italic">K</tspan><tspan font-size="9.1" dy="-4.6">0.888</tspan><tspan dy="4.6">10</tspan><tspan font-size="9.1" dy="-4.6" dx="0.8">−0.268</tspan><tspan font-size="9.1" font-style="italic">Z</tspan><tspan font-size="6.3" font-style="italic" dy="2">dr</tspan></text>
<text transform="translate(401,299.2) scale(1,1.05)" font-style="italic" font-size="9.1">dp</text>
<text transform="translate(440.1,457.2) scale(1,1.05)">CC = 0.972</text>
<text transform="translate(440.1,473.5) scale(1,1.05)">RMSE = 1.818</text>
<text transform="translate(440.1,490) scale(1,1.05)">NMAE = 0.155</text>

<text class="L" transform="translate(17.0,202.8) rotate(-90)">Estimated rain rate (mm h<tspan font-size="9" dy="-5.6" dx="0.1">−</tspan><tspan font-size="9" dx="0.9">1</tspan><tspan dy="5.6" dx="-0.2">)</tspan></text>
<text class="L" transform="translate(17.0,464.7) rotate(-90)">Estimated rain rate (mm h<tspan font-size="9" dy="-5.6" dx="0.1">−</tspan><tspan font-size="9" dx="0.9">1</tspan><tspan dy="5.6" dx="-0.2">)</tspan></text>
<text class="L" transform="translate(46.6,543.8) scale(1,1.05)" xml:space="preserve">Rain rate calculated  from DSD (mm h<tspan font-size="9" dy="-5.6" dx="0.1">−</tspan><tspan font-size="9" dx="0.9">1</tspan><tspan dy="5.6" dx="-0.2">)</tspan></text>
<text class="L" transform="translate(307.1,543.8) scale(1,1.05)" xml:space="preserve">Rain rate calculated  from DSD (mm h<tspan font-size="9" dy="-5.6" dx="0.1">−</tspan><tspan font-size="9" dx="0.9">1</tspan><tspan dy="5.6" dx="-0.2">)</tspan></text>
</g>

</svg>
</body></html>
